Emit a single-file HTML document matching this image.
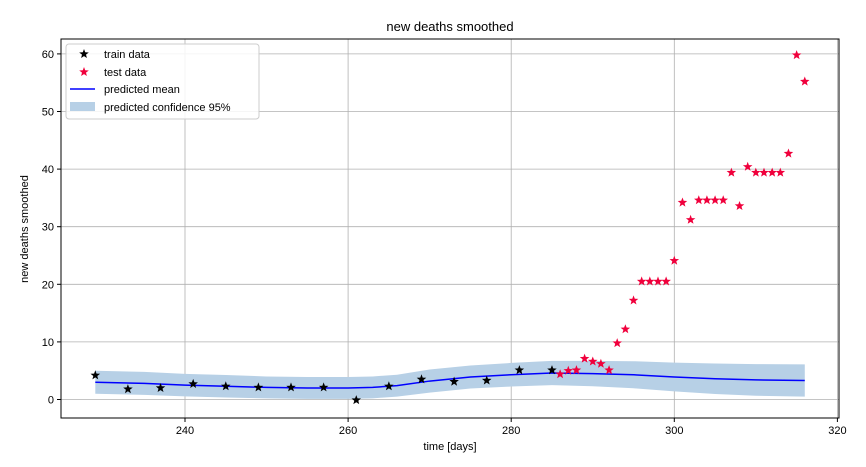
<!DOCTYPE html>
<html><head><meta charset="utf-8"><style>
body{margin:0;background:#fff;}
svg{display:block;font-family:"Liberation Sans","DejaVu Sans",sans-serif;}
</style></head><body>
<svg id="chart" width="866" height="467">
<text x="450" y="31" text-anchor="middle" font-size="13">new deaths smoothed</text>
<text x="450" y="450" text-anchor="middle" font-size="11">time [days]</text>
<text transform="translate(28,229) rotate(-90)" text-anchor="middle" font-size="11">new deaths smoothed</text>
<g id="grid"></g><g id="band"></g><g id="marks"></g><g id="axes"></g>
</svg>
<script>
const trainDays=[229,233,237,241,245,249,253,257,261,265,269,273,277,281,285];
const trainVals=[4.2,1.8,2.0,2.7,2.3,2.1,2.1,2.1,-0.1,2.3,3.5,3.1,3.3,5.1,5.1];
const testDays=[286,287,288,289,290,291,292,293,294,295,296,297,298,299,300,301,302,303,304,305,306,307,308,309,310,311,312,313,314,315,316];
const testVals=[4.4,5.0,5.1,7.1,6.6,6.2,5.1,9.8,12.2,17.2,20.5,20.5,20.5,20.5,24.1,34.2,31.2,34.6,34.6,34.6,34.6,39.4,33.6,40.4,39.4,39.4,39.4,39.4,42.7,59.8,55.2];
const meanDays=[229,235,240,245,250,255,260,263,266,270,275,280,285,290,295,300,305,310,316];
const meanVals=[3.0,2.8,2.5,2.3,2.1,2.0,2.0,2.1,2.4,3.2,3.9,4.3,4.6,4.5,4.3,3.9,3.6,3.4,3.3];
const halfWidth=[2.0,2.0,1.95,1.95,1.9,1.9,1.9,1.9,1.9,2.0,2.0,2.05,2.1,2.2,2.35,2.5,2.65,2.75,2.8];
const xTicks=[240,260,280,300,320];
const yTicks=[0,10,20,30,40,50,60];
const L=61,R=839,T=39,B=418;
const X=d=>185+(d-240)*8.155;
const Y=v=>399.5-v*5.76;
const NS="http://www.w3.org/2000/svg";
function mk(parent,tag,attrs){const e=document.createElementNS(NS,tag);for(const k in attrs)e.setAttribute(k,attrs[k]);document.getElementById(parent).appendChild(e);return e;}
xTicks.forEach(t=>{
 const g=mk('grid','line',{x1:X(t),x2:X(t),y1:T,y2:B,stroke:'#b0b0b0','stroke-width':0.8});
 
 
 const tk=mk('axes','line',{x1:X(t),x2:X(t),y1:B,y2:B+4,stroke:'#000'});
 
 
 const tx=mk('axes','text',{x:X(t),y:B+16,'text-anchor':'middle','font-size':11});
 tx.textContent=t;
 
 
});
yTicks.forEach(t=>{
 const g=mk('grid','line',{x1:L,x2:R,y1:Y(t),y2:Y(t),stroke:'#b0b0b0','stroke-width':0.8});
 
 
 const tk=mk('axes','line',{x1:L-4,x2:L,y1:Y(t),y2:Y(t),stroke:'#000'});
 
 
 const tx=mk('axes','text',{x:L-7,y:Y(t)+4,'text-anchor':'end','font-size':11});
 tx.textContent=t;
 
 
});
const fr=mk('axes','rect',{x:L,y:T,width:R-L,height:B-T,fill:'none',stroke:'#000','stroke-width':1});


let up=meanDays.map((d,i)=>X(d)+','+Y(meanVals[i]+halfWidth[i]));
let lo=meanDays.map((d,i)=>X(d)+','+Y(meanVals[i]-halfWidth[i])).reverse();
const band=mk('band','polygon',{points:up.concat(lo).join(' '),fill:'#b7d0e6'});


const line=mk('band','polyline',{points:meanDays.map((d,i)=>X(d)+','+Y(meanVals[i])).join(' '),fill:'none',stroke:'#0000ff','stroke-width':1.5});


function star(cx,cy,r){let p=[];for(let i=0;i<10;i++){const a=-Math.PI/2+i*Math.PI/5;const rr=i%2?r*0.42:r;p.push((cx+rr*Math.cos(a)).toFixed(1)+','+(cy+rr*Math.sin(a)).toFixed(1));}return p.join(' ');}
trainDays.forEach((d,i)=>{
 const s=mk('marks','polygon',{points:star(X(d),Y(trainVals[i]),5),fill:'#000'});
 
 
});
testDays.forEach((d,i)=>{
 const s=mk('marks','polygon',{points:star(X(d),Y(testVals[i]),5),fill:'#f0003c'});
 
 
});
// legend
const lg=mk('axes','rect',{x:66,y:44,width:193,height:75,rx:3,fill:'#fff','fill-opacity':0.85,stroke:'#ccc'});


const s1=mk('axes','polygon',{points:star(84,54,5),fill:'#000'});


const s2=mk('axes','polygon',{points:star(84,72,5),fill:'#f0003c'});


const l3=mk('axes','line',{x1:70,x2:95,y1:89,y2:89,stroke:'#0000ff','stroke-width':1.5});


const r4=mk('axes','rect',{x:70,y:102,width:25,height:9,fill:'#b7d0e6'});


[['train data',58],['test data',76],['predicted mean',93],['predicted confidence 95%',111]].forEach(([t,y])=>{
 const tx=mk('axes','text',{x:104,y:y,'font-size':11});
 tx.textContent=t;
 
 
});
</script>
</body></html>
